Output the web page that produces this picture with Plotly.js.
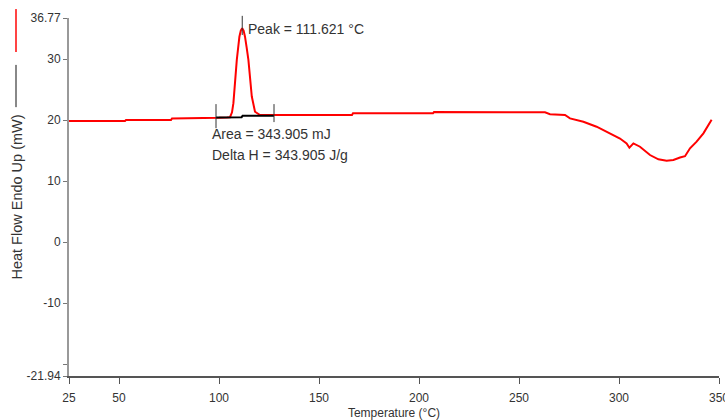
<!DOCTYPE html>
<html>
<head>
<meta charset="utf-8">
<script src="https://cdn.plot.ly/plotly-3.0.1.min.js"></script>
<style>html,body{margin:0;padding:0;background:#fff;}#chart{width:725px;height:420px;}</style>
</head>
<body>
<div id="chart"></div>
<script>
// Measured DSC curve (temperature in °C, heat flow in mW)
const tempC = [25, 53, 53.5, 76, 76.5, 97, 100, 104, 105.5, 106.5, 107.2, 108.9, 109.6, 110.2, 110.9, 111.6, 112.3, 113, 113.8, 114.7, 116.4, 118, 120.5, 129, 166.5, 167, 207, 207.5, 255.5, 263, 265.5, 273, 275.5, 282.2, 288.8, 295.5, 300.5, 303.8, 305.2, 307.2, 310.5, 315.5, 319.7, 323.8, 327.2, 330.5, 333, 335.5, 338.8, 342.2, 345.5, 346.3];
const heatFlow = [19.88, 19.88, 20.04, 20.04, 20.3, 20.3, 20.4, 20.45, 20.5, 21.3, 22.8, 29.9, 32.2, 33.7, 34.7, 35.1, 34.7, 33.7, 32.0, 29.9, 23.9, 21.4, 20.86, 20.86, 20.86, 21.14, 21.14, 21.35, 21.35, 21.3, 21.0, 20.86, 20.3, 19.76, 18.94, 17.86, 17.0, 16.2, 15.5, 16.2, 15.66, 14.3, 13.6, 13.37, 13.48, 13.9, 14.1, 15.4, 16.5, 17.86, 19.76, 20.1];

// Integration baseline under the peak
const baseT = [98.5, 111.3, 111.8, 127.5];
const baseH = [20.45, 20.5, 20.72, 20.75];

// Peak analysis values
const peakTemp = 111.621;
const areaStart = 98.5;
const areaEnd = 127.5;
const peakLabel = "Peak = 111.621 °C";
const areaLabel = "Area = 343.905 mJ";
const deltaHLabel = "Delta H = 343.905 J/g";

// Axis ticks
const xTickVals = [25, 50, 100, 150, 200, 250, 300, 350];
const xTickText = ["25", "50", "100", "150", "200", "250", "300", "350"];
const yTickVals = [36.77, 30, 20, 10, 0, -10, -20, -21.94];
const yTickText = ["36.77", "30", "20", "10", "0", "-10", "", "-21.94"];

const font = "Liberation Sans, Arial, sans-serif";
const txt = "#333333";

const traces = [
  {x: tempC, y: heatFlow, type: "scatter", mode: "lines",
   line: {color: "#ff0000", width: 2}, hoverinfo: "skip"},
  {x: baseT, y: baseH, type: "scatter", mode: "lines",
   line: {color: "#000000", width: 2}, hoverinfo: "skip"}
];

const layout = {
  width: 725, height: 420,
  margin: {l: 69, r: 6, t: 18, b: 44},
  paper_bgcolor: "#ffffff", plot_bgcolor: "#ffffff",
  showlegend: false,
  font: {family: font, size: 12, color: txt},
  xaxis: {
    range: [25, 350], tickvals: xTickVals, ticktext: xTickText,
    showgrid: false, zeroline: false, showline: true, linecolor: "#555555", linewidth: 1.5,
    ticks: "outside", ticklen: 6, tickcolor: "#555555", tickwidth: 1,
    ticklabelstandoff: 4, ticklabeloverflow: "allow",
    tickfont: {family: font, size: 12, color: txt},
    title: {text: "Temperature (°C)", font: {family: font, size: 12, color: txt}, standoff: 8},
    automargin: false
  },
  yaxis: {
    range: [-21.94, 36.77], tickvals: yTickVals, ticktext: yTickText,
    showgrid: false, zeroline: false, showline: true, linecolor: "#999999", linewidth: 2,
    ticks: "outside", ticklen: 4, tickcolor: "#777777", tickwidth: 1,
    tickfont: {family: font, size: 12, color: txt},
    title: {text: "Heat Flow Endo Up (mW)", font: {family: font, size: 14.5, color: txt}, standoff: 0},
    automargin: false
  },
  shapes: [
    {type: "line", xref: "paper", yref: "paper", x0: -0.0815, x1: -0.0815, y0: 1.025, y1: 0.905,
     line: {color: "#ff4444", width: 2}},
    {type: "line", xref: "paper", yref: "paper", x0: -0.0815, x1: -0.0815, y0: 0.869, y1: 0.751,
     line: {color: "#888888", width: 2}},
    {type: "line", xref: "x", yref: "paper", x0: peakTemp, x1: peakTemp, y0: 0.9525, y1: 1.006,
     line: {color: "#333333", width: 1}},
    {type: "line", xref: "x", yref: "y", x0: areaStart, x1: areaStart, y0: 22.65, y1: 18.7,
     line: {color: "#333333", width: 1}},
    {type: "line", xref: "x", yref: "y", x0: areaEnd, x1: areaEnd, y0: 22.65, y1: 19.7,
     line: {color: "#333333", width: 1}}
  ],
  annotations: [
    {text: peakLabel, x: 113.5, y: 34.96, xref: "x", yref: "y", xanchor: "left", yanchor: "middle",
     showarrow: false, font: {family: font, size: 14, color: txt}},
    {text: areaLabel, x: 95.3, y: 17.7, xref: "x", yref: "y", xanchor: "left", yanchor: "middle",
     showarrow: false, font: {family: font, size: 14, color: txt}},
    {text: deltaHLabel, x: 95.3, y: 14.3, xref: "x", yref: "y", xanchor: "left", yanchor: "middle",
     showarrow: false, font: {family: font, size: 14, color: txt}}
  ]
};

Plotly.newPlot("chart", traces, layout, {displayModeBar: false, staticPlot: true});
</script>
</body>
</html>
